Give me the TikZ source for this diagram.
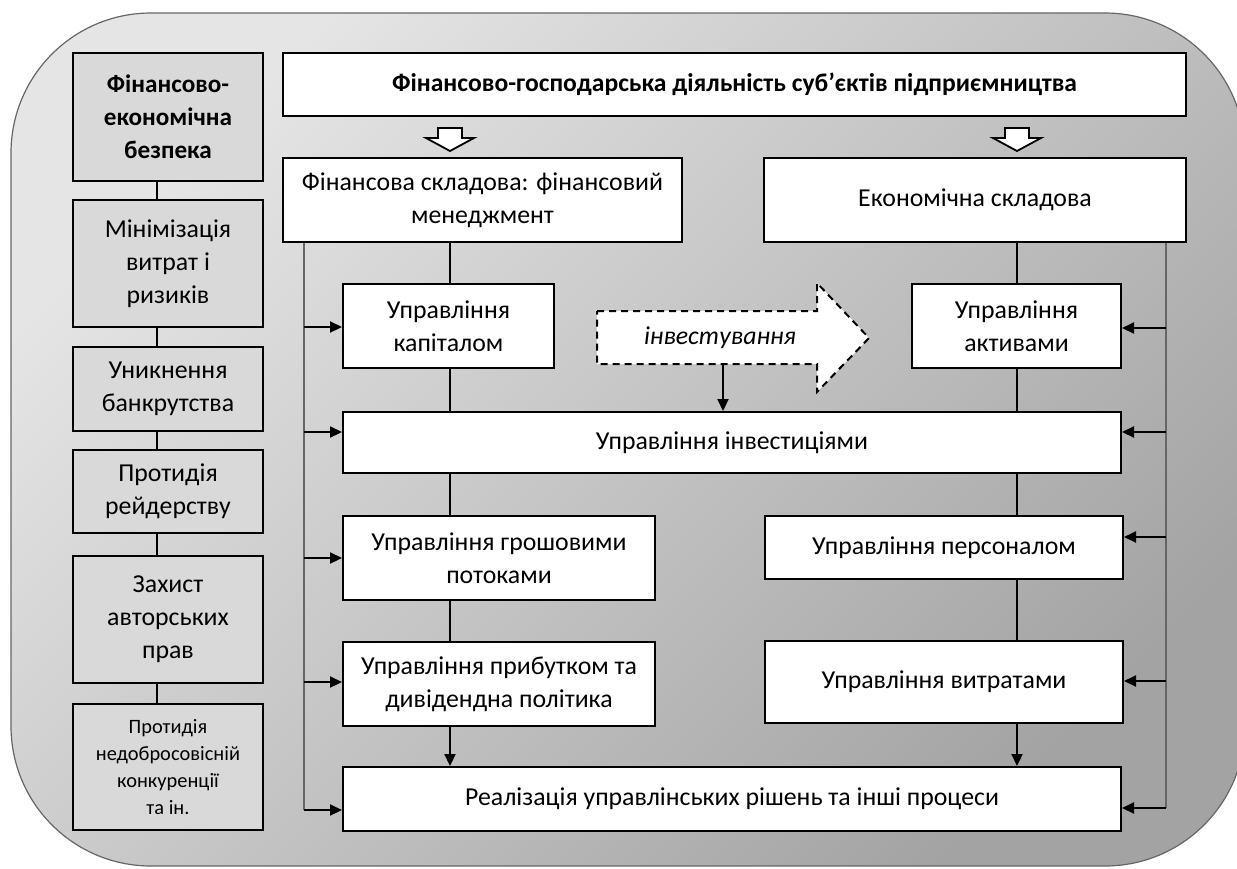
\documentclass[tikz,border=0pt]{standalone}
\usepackage{fontspec}
\setmainfont{Carlito}
\usetikzlibrary{calc,arrows.meta,positioning}

\tikzset{
  box/.style={draw, line width=1pt, fill=white, align=center, inner sep=2pt},
  sidebox/.style={box, fill=black!15},
  link/.style={line width=0.8pt},
  bus/.style={draw=black!60, line width=0.7pt},
  feed/.style={->, line width=1.1pt},
}

\begin{document}
\begin{tikzpicture}[x=0.5pt, y=-0.5pt, >={Triangle[length=6pt,width=5.5pt]},
    font=\fontsize{12.9}{16.5}\selectfont]
    % Frame
    \useasboundingbox (0,0) rectangle (1237,868);
    \clip (0,0) rectangle (1237,868);
    \shade[draw=black!60, line width=0.6pt, rounded corners=70pt,
        top color=black!10, bottom color=black!36, shading angle=45]
        (11,13) rectangle (1245,866);
    
    % Parameters
    \def\lbus{304}  % left feed line
    \def\rbus{1166} % right feed line
    
    % Left column
    \node[sidebox, minimum width=95pt, minimum height=64pt, font=\fontsize{12.6}{16.5}\selectfont\bfseries]
        (sec) at (168,117) {Фінансово-\\економічна\\безпека};
    \node[sidebox, minimum width=95pt, minimum height=63.5pt] (minz) at (168,263.5) {Мінімізація\\витрат і\\ризиків};
    \node[sidebox, minimum width=95pt, minimum height=42pt] (bank) at (168,389) {Уникнення\\банкрутства};
    \node[sidebox, minimum width=95pt, minimum height=41.5pt] (raid) at (168,491.5) {Протидія\\рейдерству};
    \node[sidebox, minimum width=95pt, minimum height=63.5pt] (copy) at (168,619.5) {Захист\\авторських\\прав};
    \node[sidebox, minimum width=95pt, minimum height=63pt, font=\fontsize{10.2}{13.5}\selectfont]
        (comp) at (168,767) {Протидія\\недобросовісній\\конкуренції\\та ін.};
    
    \coordinate (spine) at (157,0);
    \foreach \a/\b in {sec/minz, minz/bank, bank/raid, raid/copy, copy/comp}
        \draw[link] (spine |- \a.south) -- (spine |- \b.north);
    
    % Top level
    \node[box, minimum width=451.5pt, minimum height=31.5pt, font=\fontsize{12.8}{16.5}\selectfont\bfseries]
        (top) at (734.5,84.5) {Фінансово-господарська діяльність суб’єктів підприємництва};
    \node[box, minimum width=199.5pt, minimum height=42pt] (fin) at (482.5,200) {Фінансова складова: фінансовий\\менеджмент};
    \node[box, minimum width=211pt, minimum height=42pt] (econ) at (975,200) {Економічна складова};
    
    % Hollow arrows
    \foreach \x in {450,1017}
        \draw[line width=0.9pt, fill=white] (\x-12,128) -- (\x+12,128) -- (\x+12,138) -- (\x+24,138)
            -- (\x,151) -- (\x-24,138) -- (\x-12,138) -- cycle;
    
    % Management blocks
    \node[box, minimum width=105.5pt, minimum height=42pt] (cap) at (448.5,326) {Управління\\капіталом};
    \node[box, minimum width=104.5pt, minimum height=42pt] (act) at (1016.5,326) {Управління\\активами};
    \node[box, minimum width=389pt, minimum height=30.5pt] (minv) at (732,442.5) {Управління інвестиціями};
    \node[box, minimum width=156pt, minimum height=42pt] (cash) at (499,558) {Управління грошовими\\потоками};
    \node[box, minimum width=179pt, minimum height=31.5pt] (pers) at (944,547.5) {Управління персоналом};
    \node[box, minimum width=156pt, minimum height=42pt] (prof) at (499,684) {Управління прибутком та\\дивідендна політика};
    \node[box, minimum width=179pt, minimum height=41pt] (cost) at (944,682) {Управління витратами};
    \node[box, minimum width=389pt, minimum height=32pt] (real) at (732,799) {Реалізація управлінських рішень та інші процеси};
    
    % Investing arrow
    \draw[line width=1pt, dash pattern=on 3.5pt off 2.5pt, fill=white]
        (597,311) -- (817,311) -- (817,283) -- (869,338) -- (817,392) -- (817,364) -- (597,364) -- cycle;
    \node[font=\fontsize{12.9}{16.5}\selectfont\itshape] (inv) at (720,338) {інвестування};
    \coordinate (drop) at (723,364);
    \draw[feed] (drop) -- (minv.north -| drop);
    
    % Vertical links, financial side
    \coordinate (fsp) at (450,0);
    \draw[link] (fin.south -| fsp) -- (cap.north -| fsp);
    \draw[link] (cap.south -| fsp) -- (minv.north -| fsp);
    \draw[link] (minv.south -| fsp) -- (cash.north -| fsp);
    \draw[link] (cash.south -| fsp) -- (prof.north -| fsp);
    \draw[feed] (prof.south -| fsp) -- (real.north -| fsp);
    
    % Vertical links, economic side
    \coordinate (esp) at (1017,0);
    \draw[link] (econ.south -| esp) -- (act.north -| esp);
    \draw[link] (act.south -| esp) -- (minv.north -| esp);
    \draw[link] (minv.south -| esp) -- (pers.north -| esp);
    \draw[link] (pers.south -| esp) -- (cost.north -| esp);
    \draw[feed] (cost.south -| esp) -- (real.north -| esp);
    
    % Feed lines
    \draw[bus] (\lbus,0 |- fin.south) -- (\lbus,810);
    \foreach \n/\y in {cap/327, minv/432, cash/558, prof/682, real/810}
        \draw[feed] (\lbus,\y) -- (\n.west |- 0,\y);
    \draw[bus] (\rbus,0 |- econ.south) -- (\rbus,808);
    \foreach \n/\y in {act/328, minv/432, pers/537, cost/681, real/808}
        \draw[feed] (\rbus,\y) -- (\n.east |- 0,\y);
\end{tikzpicture}
\end{document}
